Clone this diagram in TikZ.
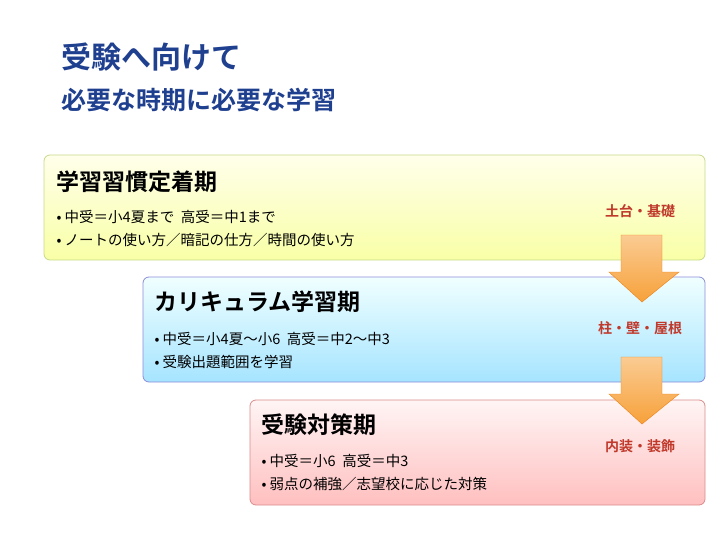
\documentclass[tikz,border=0pt]{standalone}
\usepackage{fontspec}
\setmainfont{Noto Sans CJK JP}
\newfontfamily\jpbold{Noto Sans CJK JP Bold}
\usetikzlibrary{arrows.meta,positioning}
\definecolor{titleblue}{HTML}{1F3F8F}
\definecolor{labelred}{HTML}{C0392B}
\definecolor{arroworange}{HTML}{F7A13A}

\tikzset{
  stagebox/.style={draw=#1!50!gray!60, rounded corners=6pt, line width=0.8pt},
  stagetitle/.style={anchor=west, font=\jpbold\fontsize{23}{26}\selectfont},
  bullettext/.style={anchor=west, font=\fontsize{14.5}{23}\selectfont, align=left},
  stagelabel/.style={font=\jpbold\fontsize{14}{16}\selectfont, text=labelred},
  downarrow/.style={draw=orange!70!brown, top color=arroworange!55, bottom color=arroworange}
}

\begin{document}
\begin{tikzpicture}[x=1pt,y=-1pt]
  \useasboundingbox (0,0) rectangle (720,540);

  % heading
  \node[anchor=west, font=\jpbold\fontsize{30}{34}\selectfont, text=titleblue] (head1) at (58,57) {受験へ向けて};
  \node[anchor=west, font=\jpbold\fontsize{25}{28}\selectfont, text=titleblue] (head2) at (58,100) {必要な時期に必要な学習};

  % stage boxes
  \shade[top color=yellow!8, bottom color=lime!30!yellow!35, rounded corners=6pt] (44,155) rectangle (705,260);
  \draw[stagebox=lime] (44,155) rectangle (705,260);
  \shade[top color=cyan!6, bottom color=blue!30!cyan!35, rounded corners=6pt] (143,277) rectangle (705,382);
  \draw[stagebox=blue] (143,277) rectangle (705,382);
  \shade[top color=red!4, bottom color=red!25, rounded corners=6pt] (250,400) rectangle (705,505);
  \draw[stagebox=red] (250,400) rectangle (705,505);

  % arrows
  \foreach \ya in {235,357}{
    \path[downarrow] (621,\ya) -- (662,\ya) -- (662,\ya+37) -- (679,\ya+37)
      -- (642,\ya+67) -- (609,\ya+37) -- (621,\ya+37) -- cycle;
  }

  % stage 1
  \node[stagetitle] (t1) at (53,182) {学習習慣定着期};
  \node[bullettext] (b1) at (53,229) {• 中受＝小4夏まで\ \ 高受＝中1まで\\• ノートの使い方／暗記の仕方／時間の使い方};
  \node[stagelabel] (l1) at (640,211) {土台・基礎};

  % stage 2
  \node[stagetitle] (t2) at (151,302) {カリキュラム学習期};
  \node[bullettext] (b2) at (151,350) {• 中受＝小4夏〜小6\ \ 高受＝中2〜中3\\• 受験出題範囲を学習};
  \node[stagelabel] (l2) at (640,328) {柱・壁・屋根};

  % stage 3
  \node[stagetitle] (t3) at (258,425) {受験対策期};
  \node[bullettext] (b3) at (258,473) {• 中受＝小6\ \ 高受＝中3\\• 弱点の補強／志望校に応じた対策};
  \node[stagelabel] (l3) at (640,446) {内装・装飾};
\end{tikzpicture}
\end{document}
